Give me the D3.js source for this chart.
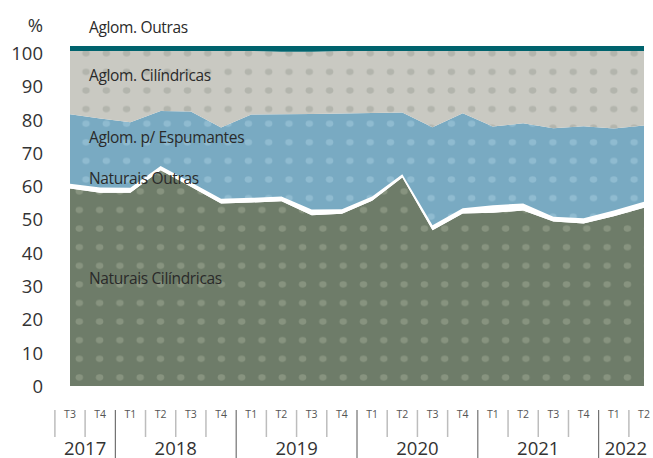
<!DOCTYPE html>
<html><head><meta charset="utf-8">
<script src="https://cdn.jsdelivr.net/npm/d3@7"></script>
<style>
html,body{margin:0;padding:0;background:#fff;}
svg{display:block;font-family:"Open Sans",sans-serif;}
</style></head>
<body><svg id="c" width="653" height="458"></svg>
<script>
const quarterLabels = ["T3","T4","T1","T2","T3","T4","T1","T2","T3","T4","T1","T2","T3","T4","T1","T2","T3","T4","T1","T2"];
const quarterYears  = [2017,2017,2018,2018,2018,2018,2019,2019,2019,2019,2020,2020,2020,2020,2021,2021,2021,2021,2022,2022];
const yearLabels = ["2017","2018","2019","2020","2021","2022"];
const yTicks = [0,10,20,30,40,50,60,70,80,90,100];

const naturaisCilindricas = [59.3,58.0,58.0,64.8,59.8,54.8,55.1,55.5,51.3,51.7,55.6,62.6,46.8,51.8,52.0,52.7,49.4,48.8,51.0,53.5];
const naturaisOutras      = [1.4,1.6,1.5,1.3,1.4,1.4,1.4,1.4,1.7,1.4,1.3,1.0,1.5,1.6,2.3,2.1,1.4,1.6,1.7,1.8];
const aglomEspumantes     = [20.9,20.7,19.7,16.5,21.2,21.4,25.0,24.7,28.7,28.7,25.1,18.5,29.4,28.5,23.6,24.1,26.6,27.6,24.6,22.9];
const aglomCilindricas    = [19.0,20.3,21.4,18.0,18.2,23.0,19.1,18.8,18.7,18.8,18.6,18.5,22.9,18.7,22.7,21.7,23.2,22.6,23.3,22.4];
const aglomOutras         = [1.5,1.5,1.5,1.5,1.5,1.5,1.5,1.7,1.7,1.5,1.5,1.5,1.5,1.5,1.5,1.5,1.5,1.5,1.5,1.5];

const seriesNames = ["Naturais Cilíndricas","Naturais Outras","Aglom. p/ Espumantes","Aglom. Cilíndricas","Aglom. Outras"];
const seriesValues = [naturaisCilindricas,naturaisOutras,aglomEspumantes,aglomCilindricas,aglomOutras];

const W = 653, H = 458;
const svg = d3.select("#c");
const idx = d3.range(quarterLabels.length);
const x = d3.scalePoint().domain(idx).range([70, 644]);
const step = x.step();
const y = d3.scaleLinear().domain([0,100]).range([386,53]);

const table = idx.map(i => {
  const o = {i};
  seriesNames.forEach((n,k) => o[n] = seriesValues[k][i]);
  return o;
});
const stack = d3.stack().keys(seriesNames)(table);

// patterns
const defs = svg.append("defs");
const styles = {
  "Naturais Cilíndricas": {bg:"#6e7c69", dot:"#87937f", ox:18.4, oy:5.4},
  "Naturais Outras":      {bg:"#ffffff", dot:null},
  "Aglom. p/ Espumantes": {bg:"#79aac2", dot:"#8fbbd0", ox:4.8, oy:12.1},
  "Aglom. Cilíndricas":   {bg:"#c9c9c2", dot:"#b3b5ad", ox:4.8, oy:16.1},
  "Aglom. Outras":        {bg:"#00636d", dot:null}
};
const pw = 20.3, ph = 18.6;
seriesNames.forEach((n,k) => {
  const s = styles[n];
  if (!s.dot) { s.fill = s.bg; return; }
  const p = defs.append("pattern").attr("id","p"+k).attr("patternUnits","userSpaceOnUse")
    .attr("x", s.ox - pw/2).attr("y", s.oy - ph/2).attr("width", pw).attr("height", ph);
  p.append("rect").attr("width", pw).attr("height", ph).attr("fill", s.bg);
  p.append("ellipse").attr("cx", pw/2).attr("cy", ph/2).attr("rx", 3.7).attr("ry", 3.1).attr("fill", s.dot);
  s.fill = "url(#p"+k+")";
});

const area = d3.area().x(d => x(d.data.i)).y0(d => y(d[0])).y1(d => y(d[1]));
svg.append("g").selectAll("path").data(stack).join("path")
  .attr("d", area).attr("fill", d => styles[d.key].fill);

// y axis labels
const yAxis = d3.axisLeft(y).tickValues(yTicks).tickSize(0).tickPadding(0);
const ga = svg.append("g").attr("transform","translate(43,0)").call(yAxis);
ga.select(".domain").remove();
ga.selectAll("text").attr("font-size", 18.5).attr("fill","#333").attr("font-family","Open Sans, sans-serif").attr("dy","0.35em");
svg.append("text").attr("x", 43).attr("y", 24).attr("text-anchor","end").attr("dominant-baseline","central")
  .attr("font-size", 18.5).attr("fill","#333").text("%");

// series labels
const labelPos = [[89,278],[89,178],[89,137],[89,75],[89,27]];
seriesNames.forEach((n,k) => {
  svg.append("text").attr("x", labelPos[k][0]).attr("y", labelPos[k][1])
    .attr("dominant-baseline","central").attr("font-size", 15.5).attr("letter-spacing", -0.35)
    .attr("fill","#2a2a2a").text(n);
});

// bottom axis
const gb = svg.append("g");
idx.forEach(i => {
  const sx = x(i) - step/2;
  const yearStart = i > 0 && quarterYears[i] !== quarterYears[i-1];
  gb.append("line").attr("x1", sx).attr("x2", sx)
    .attr("y1", 410).attr("y2", yearStart ? 458 : 437)
    .attr("stroke", yearStart ? "#555" : "#bdbdbd").attr("stroke-width", yearStart ? 1 : 1.5);
  gb.append("text").attr("x", x(i)).attr("y", 414).attr("text-anchor","middle")
    .attr("dominant-baseline","central").attr("font-size", 10.5).attr("fill","#555").text(quarterLabels[i]);
});
yearLabels.forEach(yl => {
  const ii = idx.filter(i => String(quarterYears[i]) === yl);
  const a = Math.max(0, x(ii[0]) - step/2), b = Math.min(W, x(ii[ii.length-1]) + step/2);
  gb.append("text").attr("x", (a+b)/2).attr("y", 447).attr("text-anchor","middle")
    .attr("dominant-baseline","central").attr("font-size", 18.5).attr("fill","#333").text(yl);
});
</script></body></html>
